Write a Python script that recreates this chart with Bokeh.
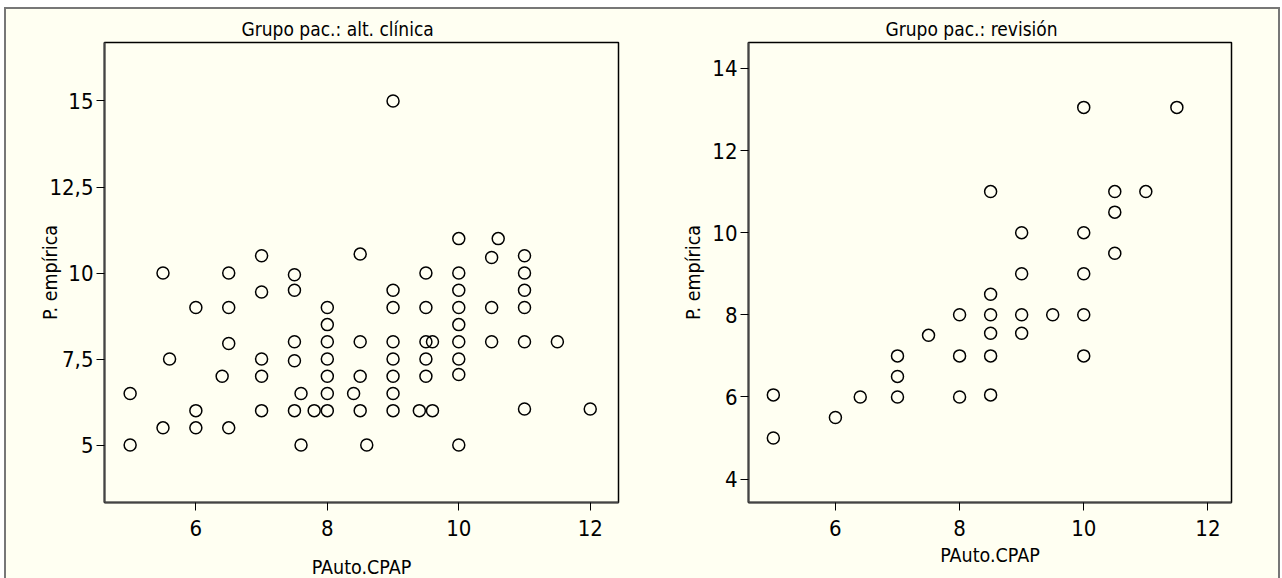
from bokeh.plotting import figure
from bokeh.layouts import row
from bokeh.models import FixedTicker, Range1d
from bokeh.embed import file_html
from bokeh.resources import INLINE

# ---- data: left panel (Grupo pac.: alt. clínica) ----
left_title = "Grupo pac.: alt. clínica"
left_x = [5, 5, 5.5, 5.6, 5.5, 6, 6, 6, 6.5, 6.5, 6.5, 6.5, 6.4,
          7, 7, 7, 7, 7, 7.5, 7.5, 7.5, 7.5, 7.5, 7.6, 7.6, 7.8,
          8, 8, 8, 8, 8, 8, 8, 8.5, 8.5, 8.5, 8.5, 8.4, 8.6,
          9, 9, 9, 9, 9, 9, 9, 9, 9.4, 9.6, 9.5, 9.5, 9.5, 9.6, 9.5, 9.5,
          10, 10, 10, 10, 10, 10, 10, 10, 10, 10.5, 10.6, 10.5, 10.5,
          11, 11, 11, 11, 11, 11, 11.5, 12]
left_y = [6.5, 5, 10, 7.5, 5.5, 9, 6, 5.5, 10, 9, 7.95, 5.5, 7,
          10.5, 9.45, 7.5, 7, 6, 9.95, 9.5, 8, 7.45, 6, 6.5, 5, 6,
          9, 8.5, 8, 7.5, 7, 6.5, 6, 10.55, 8, 7, 6, 6.5, 5,
          15, 9.5, 9, 8, 7.5, 7, 6.5, 6, 6, 6, 10, 9, 8, 8, 7.5, 7,
          11, 10, 9.5, 9, 8.5, 8, 7.5, 7.05, 5, 10.45, 11, 9, 8,
          10.5, 10, 9.5, 9, 8, 6.05, 8, 6.05]
left_xticks = [6, 8, 10, 12]
left_yticks = [5, 7.5, 10, 12.5, 15]
left_ylabels = ["5", "7,5", "10", "12,5", "15"]

# ---- data: right panel (Grupo pac.: revisión) ----
right_title = "Grupo pac.: revisión"
right_x = [5, 5, 6, 6.4, 7, 7, 7, 7.5, 8, 8, 8,
           8.5, 8.5, 8.5, 8.5, 8.5, 8.5, 9, 9, 9, 9, 9.5,
           10, 10, 10, 10, 10, 10.5, 10.5, 10.5, 11, 11.5]
right_y = [6.05, 5, 5.5, 6, 7, 6.5, 6, 7.5, 8, 7, 6,
           11, 8.5, 8, 7.55, 7, 6.05, 10, 9, 8, 7.55, 8,
           13.05, 10, 9, 8, 7, 11, 10.5, 9.5, 11, 13.05]
right_xticks = [6, 8, 10, 12]
right_yticks = [4, 6, 8, 10, 12, 14]
right_ylabels = ["4", "6", "8", "10", "12", "14"]

x_label = "PAuto.CPAP"
y_label = "P. empírica"

BG = "#FFFFF2"
FONT = "Liberation Sans Narrow, DejaVu Sans Condensed, Roboto"


def make_panel(title, xs, ys, xticks, yticks, ylabels, xr, yr,
               left, right, top, bottom, frame_w, frame_h,
               title_offset, xlab_standoff, ylab_standoff):
    p = figure(output_backend="svg",
               toolbar_location=None, x_range=Range1d(*xr), y_range=Range1d(*yr),
               frame_width=frame_w, frame_height=frame_h,
               min_border_left=left, min_border_top=top,
               min_border_right=right, min_border_bottom=bottom)
    p.background_fill_color = BG
    p.border_fill_color = BG
    p.outline_line_color = "black"
    p.outline_line_width = 1.5
    p.grid.visible = False

    p.title.text = title
    p.title.align = "left"
    p.title.offset = title_offset
    p.title.standoff = 5
    p.title.text_font = FONT
    p.title.text_font_size = "19px"
    p.title.text_font_style = "normal"
    p.title.text_color = "black"

    p.xaxis.ticker = FixedTicker(ticks=xticks)
    p.yaxis.ticker = FixedTicker(ticks=yticks)
    p.yaxis.major_label_overrides = {t: l for t, l in zip(yticks, ylabels)}
    p.xaxis.major_label_overrides = {t: str(t) for t in xticks}
    for ax in (p.xaxis[0], p.yaxis[0]):
        ax.axis_line_color = "#444444"
        ax.axis_line_width = 2
        ax.major_tick_line_color = "black"
        ax.major_tick_line_width = 1
        ax.major_tick_out = 8
        ax.major_tick_in = 0
        ax.minor_tick_line_color = None
        ax.major_label_text_font = FONT
        ax.major_label_text_font_size = "22px"
        ax.major_label_text_color = "black"
        ax.axis_label_text_font = FONT
        ax.axis_label_text_font_size = "19.5px"
        ax.axis_label_text_font_style = "normal"
        ax.axis_label_text_color = "black"
    p.xaxis.major_label_standoff = 9
    p.yaxis.major_label_standoff = 3
    p.xaxis.axis_label = x_label
    p.yaxis.axis_label = y_label
    p.xaxis.axis_label_standoff = xlab_standoff
    p.yaxis.axis_label_standoff = ylab_standoff

    p.scatter(xs, ys, marker="circle", size=12, fill_color=None,
              line_color="black", line_width=1.5)
    return p


# figure 1 spans x 6..640, figure 2 spans x 640..1278 (framed by a 2px outline)
p1 = make_panel(left_title, left_x, left_y, left_xticks, left_yticks, left_ylabels,
                (4.61, 12.43), (3.33, 16.70),
                left=98, right=22, top=33, bottom=78, frame_w=514, frame_h=460,
                title_offset=137, xlab_standoff=17, ylab_standoff=-16)
p2 = make_panel(right_title, right_x, right_y, right_xticks, right_yticks, right_ylabels,
                (4.60, 12.38), (3.43, 14.63),
                left=108, right=47, top=33, bottom=78, frame_w=483, frame_h=460,
                title_offset=137, xlab_standoff=5, ylab_standoff=4)

layout = row(p1, p2, margin=(9, 0, 0, 6),
             styles={"outline": "2px solid #777777", "background-color": BG})

open("out.html", "w").write(file_html(layout, INLINE))
